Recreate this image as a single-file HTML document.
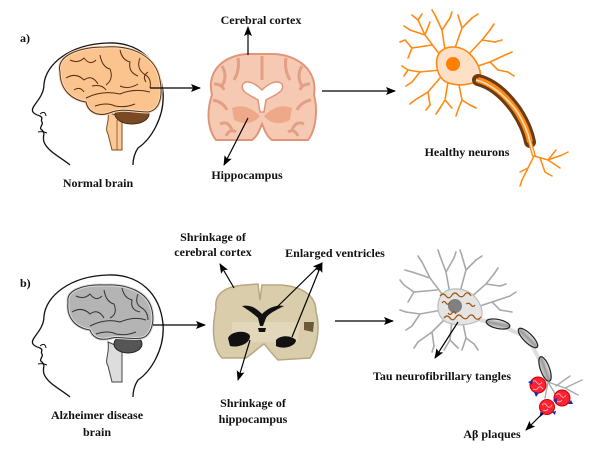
<!DOCTYPE html>
<html><head><meta charset="utf-8"><style>
html,body{margin:0;padding:0;background:#fff;}
svg{display:block}
svg text{font-family:"Liberation Serif","DejaVu Serif",serif;font-weight:bold;font-size:12px;fill:#111;text-anchor:middle}
</style></head><body>
<svg width="600" height="450" viewBox="0 0 600 450" xmlns="http://www.w3.org/2000/svg" font-family="Liberation Serif, DejaVu Serif, serif">
<defs>
<marker id="ah" markerWidth="10" markerHeight="8" refX="9" refY="4" orient="auto" markerUnits="userSpaceOnUse">
<path d="M0,0 L10,4 L0,8 L2,4 z" fill="#000"/></marker>
<linearGradient id="og" x1="0" y1="0" x2="0" y2="1"><stop offset="0" stop-color="#eee"/><stop offset="0.5" stop-color="#999"/><stop offset="1" stop-color="#ddd"/></linearGradient>
</defs>

<!-- ============ a) ============ -->
<text x="20" y="42" style="text-anchor:start">a)</text>
<path d="M70,165 C62,158 48,152 44,142 C42,136 46,134 42,130 C38,128 44,124 42,122 C40,120 44,118 40,116 C34,114 30,112 34,106 C38,100 44,94 44,84 C46,64 70,44 108,43 C140,42 160,62 163,92 C165,118 150,140 138,148 C134,154 133,160 133,165" fill="none" stroke="#111" stroke-width="1.3"/>
<path d="M40,114 q5,-4 6,2" fill="none" stroke="#111" stroke-width="1"/>
<path d="M38,132 q5,-1 9,1" fill="none" stroke="#111" stroke-width="1"/>
<path d="M108,112 C110,122 104,128 108,134 L112,150 L122,150 L122,118 Z" fill="#f9c99a" stroke="#8a4a16" stroke-width="1"/>
<line x1="117" y1="120" x2="117" y2="150" stroke="#8a4a16" stroke-width="0.8"/>
<ellipse cx="132" cy="114" rx="17" ry="10" fill="#7a4a24" stroke="#4a2a10"/>
<path d="M60,72 C56,56 78,47 105,47 C132,45 156,56 160,80 C163,96 160,110 148,112 C134,112 124,108 112,112 C98,118 88,112 86,102 C72,100 60,90 60,72 Z" fill="#fbc38d" stroke="#f7ddc0" stroke-width="3"/>
<g fill="none" stroke="#5a2e10" stroke-width="1">
<path d="M60,72 C56,56 78,47 105,47 C132,45 156,56 160,80 C163,96 160,110 148,112 C134,112 124,108 112,112 C98,118 88,112 86,102 C72,100 60,90 60,72 Z"/>
<path d="M70,60 q8,4 14,-2 q6,8 12,2 M66,78 q10,-6 18,2 q8,-6 14,4 M86,98 q16,-8 34,-4 q14,-6 30,-2 M100,55 q2,12 10,14 q4,10 -4,16 M120,50 q2,10 10,12 q-2,10 8,14 M140,58 q-4,10 4,16 q8,4 6,14 M92,86 q10,-2 14,4 M120,86 q8,4 18,-2 M95,106 q12,-4 20,0 q10,2 20,-2 M74,90 q6,-4 10,2 M148,72 q-6,4 -2,10"/>
</g>
<line x1="150" y1="88" x2="200" y2="88" stroke="#000" stroke-width="1.2" marker-end="url(#ah)"/>
<text x="98" y="187">Normal brain</text>

<!-- section a -->
<path d="M212,95 C206,70 225,54 250,54 L272,54 C297,54 318,70 314,95 C318,110 316,130 308,140 L272,140 C266,136 264,128 262,124 C260,128 258,136 252,140 L216,140 C208,130 206,112 212,95 Z" fill="#f6c9b2" stroke="#e0957a" stroke-width="2"/>
<g fill="none" stroke="#e39f85" stroke-width="3">
<path d="M222,66 q6,10 0,20 M238,58 q2,12 -4,22 M286,58 q-2,12 4,22 M302,66 q-6,10 0,20 M213,100 q10,2 14,10 M311,100 q-10,2 -14,10 M220,124 q8,-4 12,6 M304,124 q-8,-4 -12,6 M262,56 L262,80 M214,84 q8,0 10,6 M310,84 q-8,0 -10,6 M226,136 q4,-8 10,-4 M298,136 q-4,-8 -10,-4"/>
</g>
<path d="M232,108 q14,-6 28,8 q-10,12 -26,4 z M292,108 q-14,-6 -28,8 q10,12 26,4 z" fill="#eea98a"/>
<path d="M243,84 C248,78 258,86 262,90 C266,86 276,78 282,84 C286,92 272,96 266,100 L264,112 L260,112 L258,100 C252,96 239,92 243,84 Z" fill="#fff" stroke="#e0957a" stroke-width="1.5"/>
<line x1="248" y1="55" x2="248" y2="27" stroke="#000" stroke-width="1.2" marker-end="url(#ah)"/>
<text x="261" y="24">Cerebral cortex</text>
<line x1="248" y1="118" x2="224" y2="165" stroke="#000" stroke-width="1.2" marker-end="url(#ah)"/>
<text x="247" y="179">Hippocampus</text>
<line x1="322" y1="91" x2="395" y2="91" stroke="#000" stroke-width="1.2" marker-end="url(#ah)"/>

<!-- neuron a -->
<g fill="none" stroke="#ff8a12" stroke-width="1.6" stroke-linecap="round">
<path d="M440,55 L425,35 L418,20 M425,35 L410,30 M432,45 L412,48 L405,40 M412,48 L408,58 M440,70 L420,72 L408,70 M420,72 L412,82 M440,78 L428,92 L415,100 M428,92 L430,105 M448,82 L445,100 L440,108 M445,100 L452,108 M458,80 L462,100 L470,105 M462,100 L458,110 M445,50 L442,30 L435,15 M442,30 L450,18 M455,48 L462,28 L458,15 M462,28 L472,18 M468,55 L482,40 L490,30 M482,40 L495,42 M472,68 L490,62 L505,55 M490,62 L498,70 L508,72 M418,20 L412,15 M425,35 L430,22"/>
<path d="M418,20 L422,14 M410,30 L404,26 M405,40 L400,42 M408,70 L402,66 M408,70 L404,76 M415,100 L410,104 M430,105 L426,110 M435,15 L432,10 M450,18 L452,12 M472,18 L478,14 M490,30 L494,24 M495,42 L502,40 M505,55 L512,52 M508,72 L514,76 M470,105 L476,108 M412,82 L406,86 M458,110 L456,116 M440,108 L436,114"/>
</g>
<path d="M440,52 C448,44 462,46 470,54 C478,62 482,72 480,80 C468,86 456,86 446,82 C436,76 434,60 440,52 Z" fill="#fde0c6" stroke="#ff8a12" stroke-width="1.6"/>
<circle cx="453" cy="64" r="7" fill="#ff8000"/>
<path d="M478,80 C494,84 506,96 516,110 C524,122 528,132 530,142" fill="none" stroke="#6b3a14" stroke-width="12" stroke-linecap="round"/>
<path d="M478,80 C494,84 506,96 516,110 C524,122 528,132 530,142" fill="none" stroke="#ff8a12" stroke-width="6"/>
<path d="M476,80 C492,84 505,96 516,110 C524,122 528,132 530,142 L534,156" fill="none" stroke="#ff8a12" stroke-width="4"/>
<path d="M476,80 C492,84 505,96 516,110 C524,122 528,132 530,142 L534,156" fill="none" stroke="#fde0c6" stroke-width="1.6"/>
<g fill="none" stroke="#ff8a12" stroke-width="1.5" stroke-linecap="round">
<path d="M534,156 L528,168 L522,180 M528,168 L520,172 M534,156 L548,160 L562,155 M548,160 L560,168 M540,158 L545,172 L552,176 M548,160 L556,150 M522,180 L520,186 M562,155 L568,152"/>
</g>
<text x="467" y="156">Healthy neurons</text>

<!-- ============ b) ============ -->
<text x="20" y="287" style="text-anchor:start">b)</text>
<g transform="translate(0,232)">
<path d="M70,165 C62,158 48,152 44,142 C42,136 46,134 42,130 C38,128 44,124 42,122 C40,120 44,118 40,116 C34,114 30,112 34,106 C38,100 44,94 44,84 C46,64 70,44 108,43 C140,42 160,62 163,92 C165,118 150,140 138,148 C134,154 133,160 133,165" fill="none" stroke="#111" stroke-width="1.3"/>
<path d="M40,114 q5,-4 6,2" fill="none" stroke="#111" stroke-width="1"/>
<path d="M38,132 q5,-1 9,1" fill="none" stroke="#111" stroke-width="1"/>
<path d="M108,110 C110,122 104,128 108,134 L112,150 L122,150 L122,116 Z" fill="#ddd" stroke="#444" stroke-width="1"/>
<ellipse cx="128" cy="112" rx="14" ry="9" fill="#555" stroke="#222"/>
<path d="M68,70 C66,58 84,52 105,53 C128,52 148,60 152,78 C155,92 150,104 142,106 C130,108 120,104 112,106 C98,110 92,104 90,98 C76,96 66,86 68,70 Z" fill="#b4b4b4" stroke="#ddd" stroke-width="3"/>
<g fill="none" stroke="#333" stroke-width="1">
<path d="M68,70 C66,58 84,52 105,53 C128,52 148,60 152,78 C155,92 150,104 142,106 C130,108 120,104 112,106 C98,110 92,104 90,98 C76,96 66,86 68,70 Z"/>
<path d="M76,64 q8,4 14,-2 q6,8 12,2 M72,80 q10,-6 18,2 q8,-6 14,4 M90,94 q16,-8 30,-4 q14,-6 26,-2 M104,58 q2,12 10,14 q4,10 -4,14 M122,56 q2,10 10,12 q-2,10 8,12 M138,62 q-4,10 4,14 q6,4 6,12 M96,102 q12,-4 20,0 q10,2 20,-2"/>
</g>
</g>
<line x1="153" y1="325" x2="205" y2="325" stroke="#000" stroke-width="1.2" marker-end="url(#ah)"/>
<text x="97" y="419">Alzheimer disease</text>
<text x="97" y="436">brain</text>

<!-- section b -->
<path d="M216,308 C214,292 228,286 245,285 L258,284 L260,300 L262,285 L280,285 C300,286 316,294 316,312 C320,326 318,346 310,358 L278,360 C272,354 268,348 264,344 C258,348 252,354 246,358 L222,358 C212,348 212,326 216,308 Z" fill="#dacdac" stroke="#b8a680" stroke-width="1.5"/>
<path d="M232,322 L300,322 L298,342 L232,342 Z" fill="#e6dcc2" opacity="0.7"/>
<path d="M242,306 C252,304 258,310 262,314 C266,310 274,304 284,306 C276,310 268,314 266,318 L263,326 L260,326 L258,318 C254,314 248,310 242,306 Z" fill="#111"/>
<path d="M258,328 L266,328 L265,332 L259,332 Z" fill="#111"/>
<path d="M228,338 C232,330 248,330 250,336 C250,344 238,348 230,346 Z" fill="#111"/>
<path d="M276,340 C282,334 292,336 296,340 C296,346 284,350 276,346 Z" fill="#111"/>
<path d="M304,322 L314,322 L313,332 L304,330 Z" fill="#6b5a3a"/>
<line x1="234" y1="288" x2="220" y2="264" stroke="#000" stroke-width="1.2" marker-end="url(#ah)"/>
<text x="213" y="241">Shrinkage of</text>
<text x="213" y="256">cerebral cortex</text>
<line x1="274" y1="310" x2="322" y2="263" stroke="#000" stroke-width="1.2" marker-end="url(#ah)"/>
<line x1="292" y1="337" x2="322" y2="263" stroke="#000" stroke-width="1.2" marker-end="url(#ah)"/>
<text x="335" y="257">Enlarged ventricles</text>
<line x1="250" y1="340" x2="238" y2="380" stroke="#000" stroke-width="1.2" marker-end="url(#ah)"/>
<text x="253" y="407">Shrinkage of</text>
<text x="253" y="423">hippocampus</text>
<line x1="335" y1="321" x2="393" y2="321" stroke="#000" stroke-width="1.2" marker-end="url(#ah)"/>

<!-- neuron b -->
<g fill="none" stroke="#a8a8a8" stroke-width="1.6" stroke-linecap="round">
<path d="M445,298 L430,278 L422,262 M430,278 L412,272 M437,290 L414,292 L404,285 M414,292 L408,302 M442,310 L420,314 L406,312 M420,314 L412,326 M446,318 L432,332 L418,342 M432,332 L434,346 M452,320 L450,340 L444,350 M450,340 L458,348 M462,318 L466,338 L474,344 M466,338 L462,350 M450,294 L446,272 L440,256 M446,272 L454,258 M460,292 L466,270 L462,256 M466,270 L476,260 M470,298 L486,284 L494,274 M486,284 L500,286 M474,308 L492,302 L510,296 M492,302 L500,310 L512,312"/>
<path d="M422,262 L418,256 M412,272 L405,270 M404,285 L400,280 M406,312 L400,310 M412,326 L406,330 M418,342 L414,348 M434,346 L432,352 M440,256 L438,250 M454,258 L456,252 M462,256 L460,250 M476,260 L482,256 M494,274 L498,268 M500,286 L506,284 M510,296 L516,292 M474,344 L478,350"/>
</g>
<path d="M442,294 C450,286 466,288 474,296 C482,304 484,314 480,320 C468,326 456,326 446,322 C436,316 436,302 442,294 Z" fill="#e4e4e4" stroke="#bbb" stroke-width="1.2"/>
<circle cx="455" cy="306" r="7" fill="#808080"/>
<g fill="none" stroke="#a0520f" stroke-width="1.2">
<path d="M440,296 q3,-4 6,0 q3,4 6,-1 q3,-4 6,0 q4,4 7,-1 q3,-3 6,2 M442,303 q2,-3 4,0 q2,3 4,-1 M466,304 q3,-2 5,1 q2,3 4,0 M444,318 q3,-4 6,0 q3,4 6,-1 q3,-4 6,0 q4,4 7,-1 q3,-3 6,2 q3,3 6,-1 M448,313 q2,3 4,0 q2,-3 4,1"/>
</g>
<path d="M480,320 L498,324 L528,338 L545,370 L548,382" fill="none" stroke="#ddd" stroke-width="4"/>
<ellipse cx="498" cy="324" rx="12" ry="4.5" transform="rotate(12 498 324)" fill="url(#og)" stroke="#222" stroke-width="1.2"/>
<ellipse cx="528" cy="338" rx="13" ry="4.5" transform="rotate(45 528 338)" fill="url(#og)" stroke="#222" stroke-width="1.2"/>
<ellipse cx="545" cy="369" rx="13" ry="4.5" transform="rotate(70 545 369)" fill="url(#og)" stroke="#222" stroke-width="1.2"/>
<g fill="none" stroke="#aaa" stroke-width="1.4" stroke-linecap="round">
<path d="M548,382 L565,388 L582,380 M565,388 L578,395 M556,386 L570,376 M548,382 L545,398 M548,382 L560,402"/>
</g>
<g stroke="#c00" stroke-width="1">
<circle cx="538" cy="385" r="8" fill="#f23"/>
<circle cx="562" cy="398" r="8" fill="#f23"/>
<circle cx="547" cy="407" r="7.5" fill="#f23"/>
</g>
<g fill="none" stroke="#fff" stroke-width="0.7" opacity="0.8">
<path d="M532,382 q3,-3 5,1 q3,3 5,-1 M533,389 q3,2 5,-1 q2,-3 5,1 M556,395 q3,-3 5,1 q3,3 5,-1 M557,401 q3,2 5,-1 M542,405 q3,-3 5,1 q3,3 5,-1 M543,410 q3,2 5,-1"/>
</g>
<g fill="#1a2ab0">
<path d="M528,382 l5,-2 l-1,5z M534,392 l5,1 l-3,4z M553,400 l4,-2 l0,5z M568,404 l3,-4 l2,4z M540,412 l4,2 l-4,3z M552,412 l4,-1 l-1,4z"/>
</g>
<line x1="458" y1="322" x2="435" y2="358" stroke="#000" stroke-width="1.2" marker-end="url(#ah)"/>
<text x="442" y="380">Tau neurofibrillary tangles</text>
<line x1="543" y1="413" x2="526" y2="430" stroke="#000" stroke-width="1.2" marker-end="url(#ah)"/>
<text x="492" y="438">Aβ plaques</text>
</svg>
</body></html>
